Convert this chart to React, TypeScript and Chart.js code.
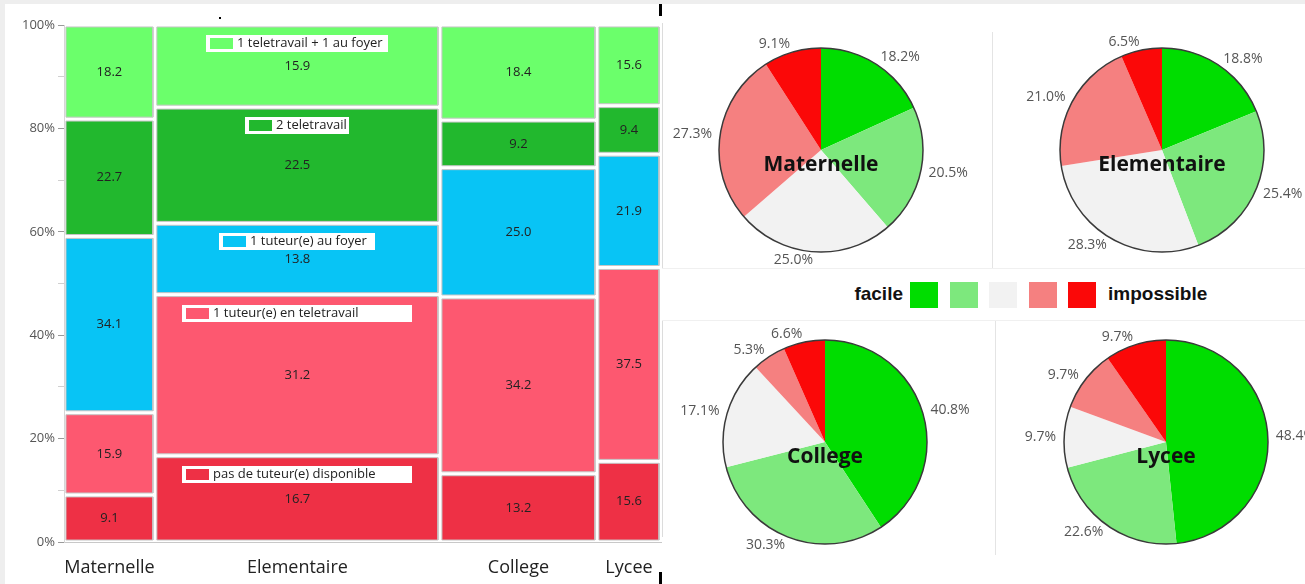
import React, { useEffect, useRef } from "react";
import { Chart, registerables } from "chart.js";
Chart.register(...registerables);

Chart.defaults.font.family = '"Open Sans", "Noto Sans", sans-serif';

// ---------- Mosaic data ----------
const levels = ["Maternelle", "Elementaire", "College", "Lycee"];
const levelCounts = [44, 138, 76, 31];
const situations = [
  "pas de tuteur(e) disponible",
  "1 tuteur(e) en teletravail",
  "1 tuteur(e) au foyer",
  "2 teletravail",
  "1 teletravail + 1 au foyer",
];
const situationColors = ["#ee3045", "#fd5870", "#08c4f5", "#22b82e", "#6bff6b"];
const pasDeTuteur = [9.1, 16.7, 13.2, 15.6];
const unTuteurTeletravail = [15.9, 31.2, 34.2, 37.5];
const unTuteurFoyer = [34.1, 13.8, 25.0, 21.9];
const deuxTeletravail = [22.7, 22.5, 9.2, 9.4];
const teletravailEtFoyer = [18.2, 15.9, 18.4, 15.6];
const yTickLabels = [0, 20, 40, 60, 80, 100];

// ---------- Pie data ----------
const difficultyLabels = ["facile", "", "", "", "impossible"];
const difficultyColors = ["#00dd00", "#7de87d", "#f2f2f2", "#f58080", "#fb0808"];
const maternellePie = [18.2, 20.5, 25.0, 27.3, 9.1];
const elementairePie = [18.8, 25.4, 28.3, 21.0, 6.5];
const collegePie = [40.8, 30.3, 17.1, 5.3, 6.6];
const lyceePie = [48.4, 22.6, 9.7, 9.7, 9.7];

const legendBoxWidths = [230, 230, 156, 104, 182];

function MosaicChart() {
  const ref = useRef<HTMLCanvasElement>(null);
  useEffect(() => {
    const series = [pasDeTuteur, unTuteurTeletravail, unTuteurFoyer, deuxTeletravail, teletravailEtFoyer];
    const cumCounts = [0];
    levelCounts.forEach((c) => cumCounts.push(cumCounts[cumCounts.length - 1] + c));
    const total = cumCounts[cumCounts.length - 1];
    const centers = levels.map((_, j) => (cumCounts[j] + cumCounts[j + 1]) / 2);
    const colBounds = levels.map((_, j) => {
      const col = series.map((s) => s[j]);
      const sum = col.reduce((a, b) => a + b, 0);
      const b = [0];
      col.forEach((v) => b.push(b[b.length - 1] + (v / sum) * 100));
      return b;
    });
    const gx = 0.95;
    const gy = 0.38;
    const datasets: any[] = [];
    levels.forEach((lvl, j) =>
      series.forEach((s, i) => {
        const x0 = cumCounts[j] + gx;
        const x1 = cumCounts[j + 1] - gx;
        const y0 = colBounds[j][i] + gy;
        const y1 = colBounds[j][i + 1] - gy;
        datasets.push({
          label: lvl + " - " + situations[i],
          data: [
            { x: x0, y: y0 },
            { x: x0, y: y1 },
            { x: x1, y: y1 },
            { x: x1, y: y0 },
            { x: x0, y: y0 },
          ],
          fill: "shape",
          backgroundColor: situationColors[i],
          borderColor: "#c6c6c6",
          borderWidth: 1,
          pointRadius: 0,
          pointHoverRadius: 0,
          tension: 0,
        });
      })
    );

    const labelsPlugin = {
      id: "mosaicLabels",
      afterDatasetsDraw(chart: any) {
        const { ctx, scales } = chart;
        const xs = scales.x;
        const ys = scales.y;
        ctx.save();
        // in-chart legend boxes (Elementaire column)
        const jl = 1;
        const cx = xs.getPixelForValue(centers[jl]);
        series.forEach((_, i) => {
          const top = ys.getPixelForValue(colBounds[jl][i + 1]);
          const w = legendBoxWidths[i];
          const bx = Math.round(cx - w / 2);
          const by = Math.round(top + 10);
          ctx.fillStyle = "#ffffff";
          ctx.fillRect(bx, by, w, 17);
          ctx.fillStyle = situationColors[i];
          ctx.fillRect(bx + 4, by + 3, 23, 11);
          ctx.fillStyle = "#222";
          ctx.font = '13px "Open Sans"';
          ctx.textAlign = "left";
          ctx.textBaseline = "middle";
          ctx.fillText(situations[i], bx + 31, by + 8.5);
        });
        // values
        ctx.font = '13px "Open Sans"';
        ctx.fillStyle = "#222";
        ctx.textAlign = "center";
        ctx.textBaseline = "middle";
        levels.forEach((_, j) =>
          series.forEach((s, i) => {
            const px = xs.getPixelForValue(centers[j]);
            const py = ys.getPixelForValue((colBounds[j][i] + colBounds[j][i + 1]) / 2);
            ctx.fillText(s[j].toFixed(1), px, py);
          })
        );
        ctx.restore();
      },
    };

    const chart = new Chart(ref.current as HTMLCanvasElement, {
      type: "line",
      data: { datasets },
      options: {
        responsive: false,
        animation: false,
        layout: { padding: { top: 25, right: 1, left: 0, bottom: 0 } },
        plugins: { legend: { display: false }, tooltip: { enabled: false } },
        scales: {
          x: {
            type: "linear",
            min: 0,
            max: total,
            afterBuildTicks: (s: any) => {
              s.ticks = centers.map((v) => ({ value: v }));
            },
            ticks: {
              callback: (_v: any, i: number) => levels[i],
              color: "#222",
              font: { size: 18 },
              padding: 7,
              maxRotation: 0,
              autoSkip: false,
            },
            grid: { display: false },
            border: { color: "#c8c8c8" },
            afterFit: (s: any) => {
              s.height = 42;
            },
          },
          y: {
            type: "linear",
            min: 0,
            max: 100,
            ticks: {
              stepSize: 10,
              autoSkip: false,
              callback: (v: any) => (yTickLabels.includes(Number(v)) ? v + "%" : ""),
              color: "#555",
              font: { size: 13 },
              padding: 3,
            },
            grid: {
              drawOnChartArea: false,
              tickLength: 6,
              tickColor: (c: any) =>
                c.tick && yTickLabels.includes(c.tick.value) ? "#9a9a9a" : "#d0d0d0",
            },
            border: { color: "#d6d6d6" },
            afterFit: (s: any) => {
              s.width = 64;
            },
          },
        },
      } as any,
      plugins: [labelsPlugin],
    });
    return () => chart.destroy();
  }, []);
  return (
    <canvas
      ref={ref}
      width={662}
      height={584}
      style={{ position: "absolute", left: 0, top: 0, width: 662, height: 584 }}
    />
  );
}

function PieChart({ title, values, cx, cy }: { title: string; values: number[]; cx: number; cy: number }) {
  const ref = useRef<HTMLCanvasElement>(null);
  useEffect(() => {
    const decor = {
      id: "pieDecor",
      afterDatasetsDraw(chart: any) {
        const meta = chart.getDatasetMeta(0);
        const ctx = chart.ctx;
        const a0 = meta.data[0];
        const x = a0.x;
        const y = a0.y;
        const r = a0.outerRadius;
        ctx.save();
        ctx.beginPath();
        ctx.arc(x, y, r, 0, Math.PI * 2);
        ctx.lineWidth = 1.5;
        ctx.strokeStyle = "#3a3a3a";
        ctx.stroke();
        ctx.font = '14px "Open Sans"';
        ctx.fillStyle = "#555";
        ctx.textBaseline = "middle";
        meta.data.forEach((arc: any, i: number) => {
          const mid = (arc.startAngle + arc.endAngle) / 2;
          const px = x + Math.cos(mid) * (r + 8);
          const py = y + Math.sin(mid) * (r + 8);
          ctx.textAlign = Math.cos(mid) >= 0 ? "left" : "right";
          ctx.fillText(values[i].toFixed(1) + "%", px, py);
        });
        ctx.font = 'bold 21px "Open Sans"';
        ctx.fillStyle = "#111";
        ctx.textAlign = "center";
        ctx.fillText(title, x, y + 15);
        ctx.restore();
      },
    };
    const chart = new Chart(ref.current as HTMLCanvasElement, {
      type: "pie",
      data: {
        labels: difficultyLabels,
        datasets: [{ data: values, backgroundColor: difficultyColors, borderWidth: 0 }],
      },
      options: {
        responsive: false,
        animation: false,
        layout: { padding: { left: 58, right: 58, top: 28, bottom: 28 } },
        plugins: { legend: { display: false }, tooltip: { enabled: false } },
      } as any,
      plugins: [decor],
    });
    return () => chart.destroy();
  }, [title, values]);
  return (
    <canvas
      ref={ref}
      width={320}
      height={260}
      style={{ position: "absolute", left: cx - 160, top: cy - 130, width: 320, height: 260 }}
    />
  );
}

const abs = (l: number, t: number, w: number, h: number, bg: string): React.CSSProperties => ({
  position: "absolute",
  left: l,
  top: t,
  width: w,
  height: h,
  background: bg,
});

export default function App() {
  const legendFont = 'bold 19px "Liberation Sans", Arial, sans-serif';
  return (
    <div
      style={{
        position: "absolute",
        left: 0,
        top: 0,
        width: 1305,
        height: 584,
        overflow: "hidden",
        background: "#fff",
      }}
    >
      <div style={abs(0, 0, 1305, 4, "#eeeeee")} />
      <div style={abs(0, 4, 5, 580, "#eeeeee")} />
      {/* right panel dividers */}
      <div style={abs(662, 23, 1, 245, "#dcdcdc")} />
      <div style={abs(662, 320, 1, 217, "#dcdcdc")} />
      <div style={abs(992, 32, 1, 236, "#e4e4e4")} />
      <div style={abs(995, 320, 1, 235, "#e4e4e4")} />
      <div style={abs(662, 268, 643, 1, "#f0f0f0")} />
      <div style={abs(662, 320, 643, 1, "#f0f0f0")} />

      <MosaicChart />

      <PieChart title="Maternelle" values={maternellePie} cx={821} cy={150} />
      <PieChart title="Elementaire" values={elementairePie} cx={1162} cy={150} />
      <PieChart title="College" values={collegePie} cx={825} cy={442} />
      <PieChart title="Lycee" values={lyceePie} cx={1166} cy={442} />

      {/* legend */}
      <div
        style={{
          position: "absolute",
          right: 1305 - 903,
          top: 283,
          height: 24,
          lineHeight: "24px",
          font: legendFont,
          color: "#111",
          whiteSpace: "nowrap",
        }}
      >
        {difficultyLabels[0]}
      </div>
      {difficultyColors.map((c, i) => (
        <div key={i} style={abs(910 + i * 39.6, 282, 28, 26, c)} />
      ))}
      <div
        style={{
          position: "absolute",
          left: 1108,
          top: 283,
          height: 24,
          lineHeight: "24px",
          font: legendFont,
          color: "#111",
          whiteSpace: "nowrap",
        }}
      >
        {difficultyLabels[4]}
      </div>

      {/* screenshot artefacts */}
      <div style={abs(659, 4, 3, 12, "#000")} />
      <div style={abs(659, 572, 3, 12, "#000")} />
      <div style={abs(219, 17, 2, 2, "#000")} />
    </div>
  );
}
